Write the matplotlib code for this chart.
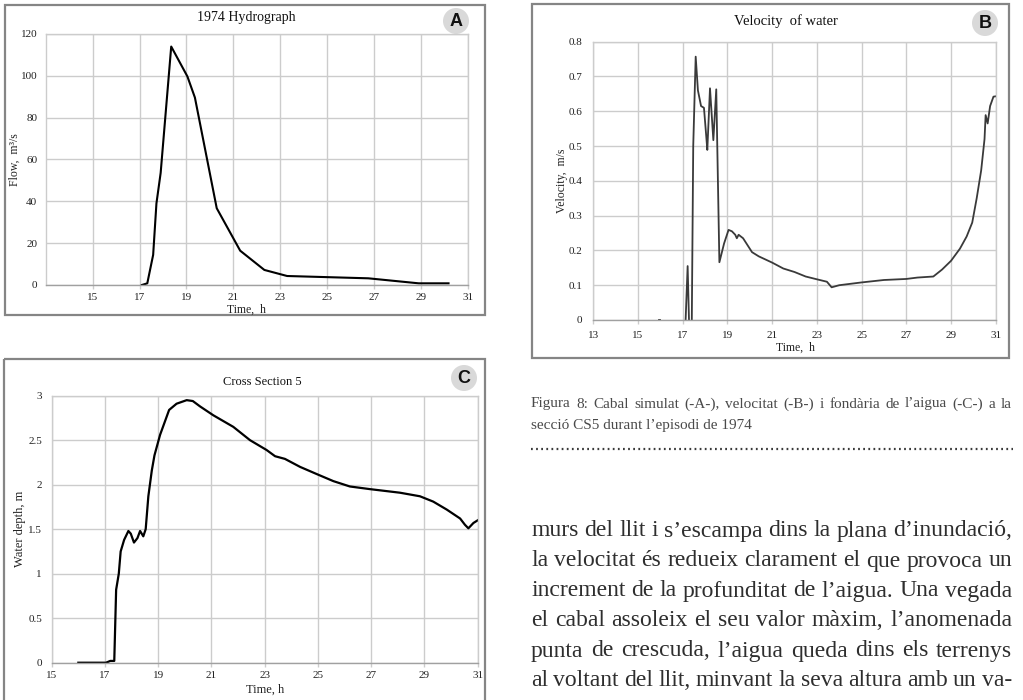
import matplotlib
matplotlib.use('Agg')
import matplotlib.pyplot as plt
from matplotlib.patches import Rectangle, Circle

plt.rcParams['font.family'] = ['Liberation Serif', 'DejaVu Serif']

W, H = 1023, 700

# ---------------- data ----------------
# Panel A: 1974 hydrograph
hydro_time = [17.1, 17.33, 17.58, 17.72, 17.9, 18.35, 19.04, 19.36, 20.29,
              21.29, 22.32, 23.29, 26.75, 28.9, 30.17]
hydro_flow = [0, 0.8, 14.4, 39, 53.6, 114, 99.7, 89.6, 36.7,
              16.4, 7.2, 4.3, 3.2, 0.8, 0.8]

# Panel B: velocity of water
vel_time = [17.1, 17.22, 17.3, 17.4, 17.47, 17.58, 17.68, 17.82, 17.95, 18.05,
            18.1, 18.22, 18.37, 18.5, 18.64, 18.85, 19.05, 19.2, 19.35, 19.42,
            19.5, 19.7, 19.9, 20.1, 20.4, 21.0, 21.5, 22.0, 22.5, 23.0,
            23.45, 23.66, 24.0, 25.0, 26.0, 27.0, 27.5, 28.21, 28.6, 29.0,
            29.4, 29.7, 29.95, 30.15, 30.35, 30.5, 30.55, 30.64, 30.75, 30.9, 31.0]
vel_value = [-0.05, 0.155, -0.05, -0.05, 0.5, 0.757, 0.66, 0.615, 0.61, 0.53,
             0.489, 0.666, 0.517, 0.663, 0.166, 0.22, 0.259, 0.255, 0.245, 0.235,
             0.245, 0.235, 0.215, 0.195, 0.183, 0.165, 0.148, 0.138, 0.125, 0.117,
             0.11, 0.094, 0.1, 0.108, 0.115, 0.118, 0.122, 0.125, 0.145, 0.17,
             0.205, 0.24, 0.28, 0.35, 0.43, 0.52, 0.589, 0.565, 0.615, 0.642, 0.643]

# Panel C: water depth at cross section 5
depth_time = [16.0, 17.04, 17.2, 17.35, 17.42, 17.52, 17.59, 17.72, 17.88, 17.97,
              18.09, 18.22, 18.32, 18.44, 18.53, 18.63, 18.76, 18.86, 19.07, 19.41,
              19.69, 20.07, 20.3, 20.57, 21.07, 21.82, 22.45, 23.07, 23.39, 23.76,
              24.33, 24.95, 25.58, 26.2, 26.96, 28.08, 28.83, 29.33, 29.84, 30.34,
              30.52, 30.65, 30.84, 31.0]
depth_value = [0, 0, 0.02, 0.02, 0.82, 1.0, 1.25, 1.38, 1.48, 1.45,
               1.35, 1.4, 1.48, 1.42, 1.5, 1.87, 2.16, 2.33, 2.56, 2.84,
               2.91, 2.95, 2.94, 2.88, 2.78, 2.65, 2.5, 2.39, 2.32, 2.29,
               2.2, 2.12, 2.04, 1.98, 1.95, 1.91, 1.87, 1.81, 1.72, 1.62,
               1.55, 1.51, 1.57, 1.6]

hydro_xticks = [15, 17, 19, 21, 23, 25, 27, 29, 31]
hydro_yticks = [0, 20, 40, 60, 80, 100, 120]
vel_xticks = [13, 15, 17, 19, 21, 23, 25, 27, 29, 31]
vel_yticks = [0, 0.1, 0.2, 0.3, 0.4, 0.5, 0.6, 0.7, 0.8]
vel_ylabels = ['0', '0.1', '0.2', '0.3', '0.4', '0.5', '0.6', '0.7', '0.8']
depth_xticks = [15, 17, 19, 21, 23, 25, 27, 29, 31]
depth_yticks = [0, 0.5, 1, 1.5, 2, 2.5, 3]
depth_ylabels = ['0', '0.5', '1', '1.5', '2', '2.5', '3']

caption_lines = [
    "Figura 8: Cabal simulat (-A-), velocitat (-B-) i fondària de l’aigua (-C-) a la",
    "secció CS5 durant l’episodi de 1974",
]
body_lines = [
    "murs del llit i s’escampa dins la plana d’inundació,",
    "la velocitat és redueix clarament el que provoca un",
    "increment de la profunditat de l’aigua. Una vegada",
    "el cabal assoleix el seu valor màxim, l’anomenada",
    "punta de crescuda, l’aigua queda dins els terrenys",
    "al voltant del llit, minvant la seva altura amb un va-",
]

# ---------------- figure ----------------
fig = plt.figure(figsize=(W / 100, H / 100), dpi=100)
fig.patch.set_facecolor('white')

bg = fig.add_axes([0, 0, 1, 1])
bg.set_xlim(0, W)
bg.set_ylim(H, 0)
bg.axis('off')

BOX = '#858585'
for (x0, y0, x1, y1) in [(5, 5, 485, 315), (532, 4, 1009, 358), (4, 359, 485, 720)]:
    bg.add_patch(Rectangle((x0, y0), x1 - x0, y1 - y0, fill=False, ec=BOX, lw=1.6))

for (cx, cy, letter) in [(456, 21, 'A'), (985, 23, 'B'), (464, 378, 'C')]:
    bg.add_patch(Circle((cx, cy), 13, fc='#d9d9d9', ec='none', zorder=5))
    bg.text(cx, cy + 0.5, letter, ha='center', va='center', fontsize=13,
            fontweight='bold', family='Liberation Sans', color='#111111', zorder=6)


def ax_at(l, t, r, b):
    return fig.add_axes([l / W, 1 - b / H, (r - l) / W, (b - t) / H])


GRID = '#cccccc'


def style(ax, xlim, xticks, ylim, yticks, ylabels):
    ax.set_xlim(*xlim)
    ax.set_ylim(*ylim)
    ax.set_xticks(xticks, labels=[str(v) for v in xticks])
    ax.set_yticks(yticks, labels=ylabels)
    ax.grid(True, color=GRID, lw=1.0)
    ax.set_axisbelow(True)
    for s in ['top', 'right', 'left']:
        ax.spines[s].set_color(GRID)
        ax.spines[s].set_linewidth(1.0)
    ax.spines['bottom'].set_color('#a0a0a0')
    ax.spines['bottom'].set_linewidth(1.0)
    ax.tick_params(axis='x', labelsize=8, labelcolor='#222222', length=3,
                   width=1.0, color=GRID, pad=3)
    ax.tick_params(axis='y', labelsize=8, labelcolor='#222222', length=0, pad=6)


# Panel A
axA = ax_at(45.7, 34, 468, 285)
axA.plot(hydro_time, hydro_flow, color='black', lw=1.5)
style(axA, (13, 31), hydro_xticks, (0, 120), hydro_yticks, [str(v) for v in hydro_yticks])
bg.text(246, 17, '1974 Hydrograph', ha='center', va='center', fontsize=10, color='#111')
bg.text(246, 310, 'Time,  h', ha='center', va='center', fontsize=8.5, color='#222')
bg.text(15, 160, 'Flow,  m³/s', ha='center', va='center', rotation=90, fontsize=8.5, color='#222')

# Panel B
axB = ax_at(593.3, 41.7, 995.7, 320)
axB.plot(vel_time, vel_value, color='#3a3a3a', lw=1.3)
axB.plot([15.95, 16.0], [0.0, 0.0], color='#3a3a3a', lw=1.3)
style(axB, (13, 31), vel_xticks, (0, 0.8), vel_yticks, vel_ylabels)
axB.tick_params(axis='y', pad=8)
axB.tick_params(axis='x', pad=5)
bg.text(786, 21, 'Velocity  of water', ha='center', va='center', fontsize=10.5, color='#111')
bg.text(795, 348, 'Time,  h', ha='center', va='center', fontsize=8.5, color='#222')
bg.text(562, 181, 'Velocity,  m/s', ha='center', va='center', rotation=90, fontsize=8.5, color='#222')

# Panel C
axC = ax_at(51.7, 395.7, 477.7, 662.7)
axC.plot(depth_time, depth_value, color='black', lw=1.6)
style(axC, (15, 31), depth_xticks, (0, 3), depth_yticks, depth_ylabels)
axC.tick_params(axis='y', pad=7)
bg.text(262, 382, 'Cross Section 5', ha='center', va='center', fontsize=9, color='#111')
bg.text(265, 690, 'Time, h', ha='center', va='center', fontsize=9, color='#222')
bg.text(20, 529, 'Water depth, m', ha='center', va='center', rotation=90, fontsize=9, color='#222')

# ---------------- text block ----------------
renderer = fig.canvas.get_renderer()


def put_line(line, x0, x1, y, size, color, justify=True):
    if not justify:
        bg.text(x0, y, line, ha='left', va='baseline', fontsize=size, color=color)
        return
    words = line.split(' ')
    texts = [bg.text(0, y, w, ha='left', va='baseline', fontsize=size, color=color)
             for w in words]
    widths = [t.get_window_extent(renderer).width for t in texts]
    gap = (x1 - x0 - sum(widths)) / (len(words) - 1)
    x = x0
    for t, w in zip(texts, widths):
        t.set_x(x)
        x += w + gap


put_line(caption_lines[0], 531, 1012, 407.5, 11, '#4a4a4a', True)
put_line(caption_lines[1], 531, 1012, 429.5, 11, '#4a4a4a', False)
bg.plot([531, 1013], [449, 449], color='#3a3a3a', lw=1.6, ls=(0, (0.8, 1.5)))

for i, line in enumerate(body_lines):
    put_line(line, 531, 1012, 536.5 + 30 * i, 17, '#2e2e2e', True)

fig.savefig('out.png', dpi=100, facecolor='white')
